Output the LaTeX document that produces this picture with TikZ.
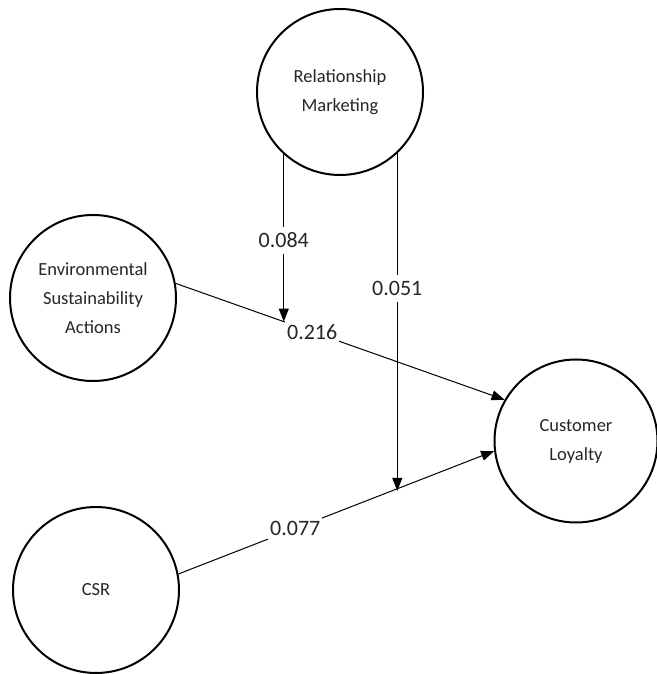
\documentclass[tikz,border=0pt]{standalone}
\usepackage{fontspec}
\setmainfont{Carlito}
\usetikzlibrary{arrows.meta}
\tikzset{
>={Triangle[length=13pt,width=10pt]}, % filled arrow heads
construct/.style={circle, draw, line width=2pt, minimum size=166pt, inner sep=0pt, align=center, text=black!85, font=\fontsize{18.5}{29}\selectfont}, % the latent variables
effect/.style={->, line width=1pt}, % the paths between constructs
coef/.style={fill=white, inner xsep=2pt, inner ysep=6pt, text=black!85, font=\fontsize{22}{26}\selectfont}, % path coefficients
}

\begin{document}
\begin{tikzpicture}[x=1pt,y=1pt]
    \useasboundingbox (0,0) rectangle (656,674);

    \node[construct] (rm) at (340,582) {Relationship\\Marketing};
    \node[construct] (esa) at (93,376) {Environmental\\Sustainability\\Actions};
    \node[construct, minimum size=163pt] (cl) at (576,233) {Customer\\Loyalty};
    \node[construct] (csr) at (96,84) {CSR};

    \draw[effect] (esa.10) -- node[coef, pos=0.415] {0.216} coordinate[pos=0.328] (m1) (cl.150);
    \draw[effect] (csr.11) -- node[coef, pos=0.37] {0.077} coordinate[pos=0.676] (m2) (cl.187);

    \draw[effect] (rm.-132.6) -- node[coef, pos=0.515] {0.084} (rm.-132.6 |- m1);
    \draw[effect] (rm.-47.6) -- node[coef, pos=0.4] {0.051} (rm.-47.6 |- m2);

\end{tikzpicture}
\end{document}
